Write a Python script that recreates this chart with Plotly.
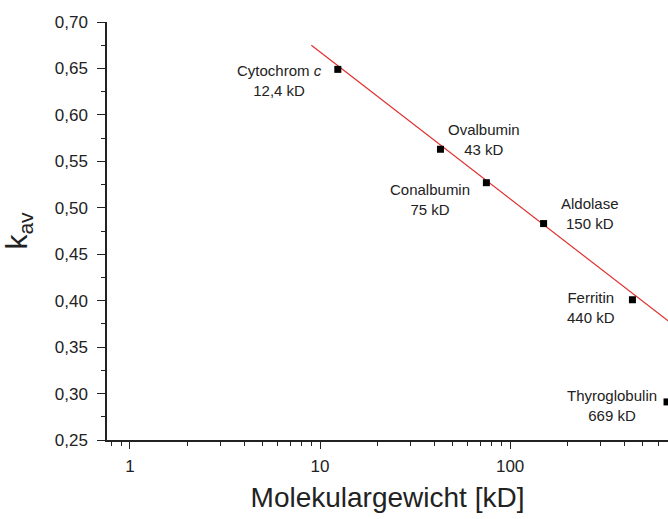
import numpy as np
import plotly.graph_objects as go

proteins = ["Cytochrom <i>c</i>", "Ovalbumin", "Conalbumin", "Aldolase", "Ferritin", "Thyroglobulin"]
mw_labels = ["12,4 kD", "43 kD", "75 kD", "150 kD", "440 kD", "669 kD"]
mw = [12.4, 43, 75, 150, 440, 669]
kav = [0.649, 0.563, 0.527, 0.483, 0.401, 0.291]

fit_x = [9, 700]
fit_y = [0.675, 0.376]

# label offsets in pixels relative to each point
label_dx = [-58, 44, -56, 46, -41, -55]
label_dy = [-11, 10, -17, 10, -8, -4]

font = "Liberation Sans, Arial, sans-serif"

fig = go.Figure()
fig.add_trace(go.Scatter(x=fit_x, y=fit_y, mode="lines",
                         line=dict(color="#e03030", width=1.2), showlegend=False))
fig.add_trace(go.Scatter(x=mw, y=kav, mode="markers",
                         marker=dict(symbol="square", size=7, color="black"),
                         showlegend=False))

for p, l, x, y, dx, dy in zip(proteins, mw_labels, mw, kav, label_dx, label_dy):
    fig.add_annotation(x=np.log10(x), y=y, xref="x", yref="y",
                       text=f"{p}<br>{l}", showarrow=False,
                       xshift=dx, yshift=dy, align="center",
                       font=dict(family=font, size=15, color="#222"))

fig.update_layout(
    width=668, height=519,
    margin=dict(l=107, r=0, t=22, b=79),
    plot_bgcolor="white", paper_bgcolor="white",
    separators=",.",
    font=dict(family=font, color="#222"),
)
fig.update_xaxes(
    type="log", range=[np.log10(0.757), np.log10(677)],
    tickvals=[1, 10, 100], ticktext=["1", "10", "100"],
    ticks="outside", ticklen=7, tickwidth=1.3, tickcolor="#222",
    showline=True, linecolor="#222", linewidth=1.5, mirror=False,
    showgrid=False, zeroline=False,
    tickfont=dict(size=17, family=font), ticklabelstandoff=3,
    minor=dict(tickvals=[0.8, 0.9, 2, 3, 4, 5, 6, 7, 8, 9, 20, 30, 40, 50, 60, 70, 80, 90, 200, 300, 400, 500, 600],
               ticks="outside", ticklen=4, tickcolor="#222", tickwidth=1, showgrid=False),
    title=dict(text="Molekulargewicht [kD]", font=dict(size=28, family=font), standoff=12),
)
fig.update_yaxes(
    range=[0.25, 0.70], dtick=0.05, tickformat=".2f",
    ticks="outside", ticklen=8, tickwidth=1.3, tickcolor="#222",
    showline=True, linecolor="#222", linewidth=1.5, mirror=False,
    showgrid=False, zeroline=False,
    tickfont=dict(size=17, family=font), ticklabelstandoff=6,
    minor=dict(dtick=0.025, ticks="outside", ticklen=4, tickcolor="#222", tickwidth=1, showgrid=False),
    title=dict(text="k<sub>av</sub>", font=dict(size=30, family=font), standoff=20),
)

fig.write_html("out.html")
